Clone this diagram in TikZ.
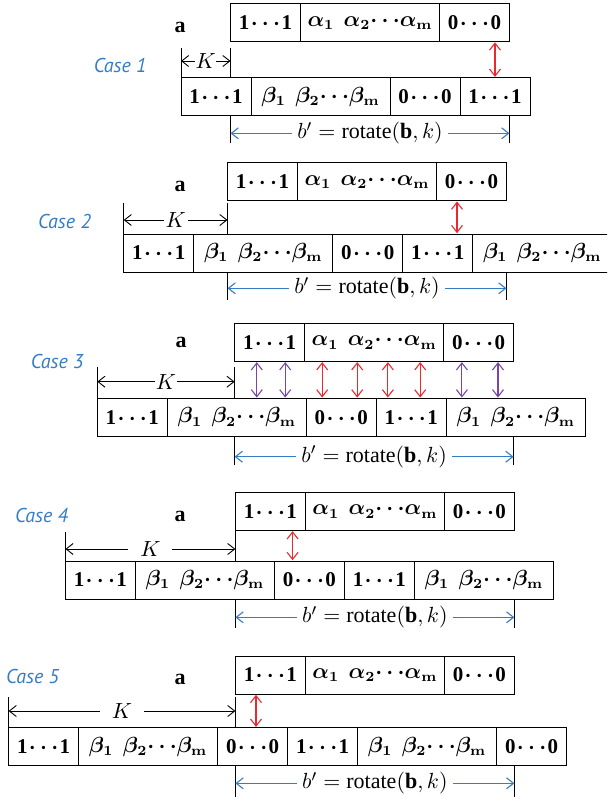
\documentclass[tikz,border=0pt]{standalone}
\usepackage{amsmath}
\usepackage{fontspec}
\setmainfont{Liberation Serif}
\newfontfamily\casefont{PT Sans}
\usetikzlibrary{arrows.meta}
\definecolor{myblue}{RGB}{52,125,195}
\definecolor{myred}{RGB}{235,40,45}
\definecolor{mypurple}{RGB}{120,70,165}
\newcommand{\myones}{\textbf{1}$\mkern1mu\cdots\mkern1mu$\textbf{1}}
\newcommand{\myzeros}{\textbf{0}$\mkern1mu\cdots\mkern1mu$\textbf{0}}
\newcommand{\myalphas}{$\alpha_1\hspace{0.45em}\alpha_2{\cdots}\alpha_{\mathbf{m}}$}
\newcommand{\mybetas}{$\beta_1\hspace{0.45em}\beta_2{\cdots}\beta_{\mathbf{m}}$}
\newcommand{\mybrot}{$b' = \text{rotate}(\mathbf{b}, k)$}
\begin{document}
\begin{tikzpicture}[x=0.5pt,y=-0.5pt,
  cell/.style={draw, line width=0.5pt, outer sep=0pt, inner sep=0pt, minimum height=19pt, anchor=north west, font=\fontsize{10.5}{13}\selectfont\boldmath},
  sc/.style={cell, minimum width=35pt},
  lc/.style={cell, minimum width=69.5pt},
  dbl/.style={line width=0.55pt, shorten >=0.4pt, shorten <=0.4pt, {Straight Barb[length=3.5pt,width=5.5pt]}-{Straight Barb[length=3.5pt,width=5.5pt]}},
  redarr/.style={dbl, draw=myred},
  purarr/.style={dbl, draw=mypurple},
  karr/.style={line width=0.45pt, draw=black, {Straight Barb[length=3.5pt,width=5.5pt]}-{Straight Barb[length=3.5pt,width=5.5pt]}},
  barr/.style={line width=0.55pt, draw=myblue, {Straight Barb[length=3.5pt,width=5.5pt]}-{Straight Barb[length=3.5pt,width=5.5pt]}},
  dimline/.style={draw, line width=0.5pt},
  klab/.style={fill=white, inner ysep=0pt, font=\fontsize{11}{13}\selectfont},
  blab/.style={fill=white, inner xsep=2.5pt, inner ysep=0pt, font=\fontsize{11}{13}\selectfont},
  casel/.style={anchor=west, text=myblue, font=\casefont\fontsize{10}{12}\selectfont\itshape, inner sep=0pt},
  alab/.style={font=\fontsize{11}{13}\selectfont\bfseries, inner sep=0pt}
]
\useasboundingbox (0,0) rectangle (607,799);
\clip (0,0) rectangle (607,799);

% ---------------- Case 1 ----------------
\node[sc] (t1a) at (230.5,3.5) {\myones};
\node[lc] (t1b) at (t1a.north east) {\myalphas};
\node[sc] (t1c) at (t1b.north east) {\myzeros};
\node[alab] (a1) at (180,27.7) {a};
\node[casel] (c1) at (93.4,65) {Case 1};
\node[sc] (b1a) at (181,77.7) {\myones};
\node[lc] (b1b) at (b1a.north east) {\mybetas};
\node[sc] (b1c) at (b1b.north east) {\myzeros};
\node[sc] (b1d) at (b1c.north east) {\myones};
\draw[dimline] (b1a.north west) -- (b1a.north west |- 0,47.7);
\draw[dimline] (t1a.south west |- 0,47.7) -- (t1a.south west |- b1a.north);
\draw[karr] (b1a.north west |- 0,61) -- (t1a.south west |- 0,61) node[klab, midway, inner xsep=0.3pt] {$K$};
\draw[redarr] (495,0 |- t1c.south) -- (495,0 |- b1d.north);
\draw[dimline] (t1a.south west |- b1a.south) -- (t1a.south west |- 0,142.7);
\draw[dimline] (t1c.south east |- b1a.south) -- (t1c.south east |- 0,142.7);
\draw[barr] (t1a.south west |- 0,133.3) -- (t1c.south east |- 0,133.3) node[blab, midway] {\mybrot};

% ---------------- Case 2 ----------------
\node[sc] (t2a) at (227.5,162.7) {\myones};
\node[lc] (t2b) at (t2a.north east) {\myalphas};
\node[sc] (t2c) at (t2b.north east) {\myzeros};
\node[alab] (a2) at (180,186) {a};
\node[casel] (c2) at (37.7,221) {Case 2};
\node[sc] (b2a) at (123.7,234) {\myones};
\node[lc] (b2b) at (b2a.north east) {\mybetas};
\node[sc] (b2c) at (b2b.north east) {\myzeros};
\node[sc] (b2d) at (b2c.north east) {\myones};
\node[lc] (b2e) at (b2d.north east) {\mybetas};
\draw[dimline] (b2a.north west) -- (b2a.north west |- 0,203.3);
\draw[dimline] (t2a.south west |- 0,203.3) -- (t2a.south west |- b2a.north);
\draw[karr] (b2a.north west |- 0,220) -- (t2a.south west |- 0,220) node[klab, midway, inner xsep=1pt] {$K$};
\draw[redarr] (457,0 |- t2c.south) -- (457,0 |- b2d.north);
\draw[dimline] (t2a.south west |- b2a.south) -- (t2a.south west |- 0,300);
\draw[dimline] (t2c.south east |- b2a.south) -- (t2c.south east |- 0,300);
\draw[barr] (t2a.south west |- 0,288.3) -- (t2c.south east |- 0,288.3) node[blab, midway] {\mybrot};

% ---------------- Case 3 ----------------
\node[sc] (t3a) at (234.6,323.3) {\myones};
\node[lc] (t3b) at (t3a.north east) {\myalphas};
\node[sc] (t3c) at (t3b.north east) {\myzeros};
\node[alab] (a3) at (181,342.3) {a};
\node[casel] (c3) at (30.4,361.7) {Case 3};
\node[sc] (b3a) at (97.3,398.3) {\myones};
\node[lc] (b3b) at (b3a.north east) {\mybetas};
\node[sc] (b3c) at (b3b.north east) {\myzeros};
\node[sc] (b3d) at (b3c.north east) {\myones};
\node[lc] (b3e) at (b3d.north east) {\mybetas};
\draw[dimline] (b3a.north west) -- (b3a.north west |- 0,367.3);
\draw[dimline] (t3a.south west |- 0,367.3) -- (t3a.south west |- b3a.north);
\draw[karr] (b3a.north west |- 0,381.7) -- (t3a.south west |- 0,381.7) node[klab, midway, inner xsep=0.5pt] {$K$};
\foreach \xx in {256.8,285.2,461.9,498}
  \draw[purarr] (\xx,0 |- t3a.south) -- (\xx,0 |- b3a.north);
\foreach \xx in {322.2,357.2,387.9,420.2}
  \draw[redarr] (\xx,0 |- t3a.south) -- (\xx,0 |- b3a.north);
\draw[dimline] (t3a.south west |- b3a.south) -- (t3a.south west |- 0,465);
\draw[dimline] (t3c.south east |- b3a.south) -- (t3c.south east |- 0,465);
\draw[barr] (t3a.south west |- 0,456.7) -- (t3c.south east |- 0,456.7) node[blab, midway] {\mybrot};

% ---------------- Case 4 ----------------
\node[sc] (t4a) at (235.4,492.3) {\myones};
\node[lc] (t4b) at (t4a.north east) {\myalphas};
\node[sc] (t4c) at (t4b.north east) {\myzeros};
\node[alab] (a4) at (180,516.7) {a};
\node[casel] (c4) at (14.8,515) {Case 4};
\node[sc] (b4a) at (65.4,561) {\myones};
\node[lc] (b4b) at (b4a.north east) {\mybetas};
\node[sc] (b4c) at (b4b.north east) {\myzeros};
\node[sc] (b4d) at (b4c.north east) {\myones};
\node[lc] (b4e) at (b4d.north east) {\mybetas};
\draw[dimline] (b4a.north west) -- (b4a.north west |- 0,531.7);
\draw[dimline] (t4a.south west) -- (t4a.south west |- b4a.north);
\draw[karr] (b4a.north west |- 0,549) -- (t4a.south west |- 0,549) node[klab, midway, inner xsep=6pt] {$K$};
\draw[redarr] (292.6,0 |- t4a.south) -- (292.6,0 |- b4c.north);
\draw[dimline] (t4a.south west |- b4a.south) -- (t4a.south west |- 0,628.3);
\draw[dimline] (t4c.south east |- b4a.south) -- (t4c.south east |- 0,628.3);
\draw[barr] (t4a.south west |- 0,617.3) -- (t4c.south east |- 0,617.3) node[blab, midway] {\mybrot};

% ---------------- Case 5 ----------------
\node[sc] (t5a) at (235.4,656) {\myones};
\node[lc] (t5b) at (t5a.north east) {\myalphas};
\node[sc] (t5c) at (t5b.north east) {\myzeros};
\node[alab] (a5) at (180,679.3) {a};
\node[casel] (c5) at (5.8,676) {Case 5};
\node[sc] (b5a) at (8.6,727.7) {\myones};
\node[lc] (b5b) at (b5a.north east) {\mybetas};
\node[sc] (b5c) at (b5b.north east) {\myzeros};
\node[sc] (b5d) at (b5c.north east) {\myones};
\node[lc] (b5e) at (b5d.north east) {\mybetas};
\node[sc] (b5f) at (b5e.north east) {\myzeros};
\draw[dimline] (b5a.north west) -- (b5a.north west |- 0,696.7);
\draw[dimline] (t5a.south west |- 0,696.7) -- (t5a.south west |- b5a.north);
\draw[karr] (b5a.north west |- 0,711) -- (t5a.south west |- 0,711) node[klab, midway, inner xsep=6pt] {$K$};
\draw[redarr] (256,0 |- t5a.south) -- (256,0 |- b5c.north);
\draw[dimline] (t5a.south west |- b5a.south) -- (t5a.south west |- 0,796.7);
\draw[dimline] (t5c.south east |- b5a.south) -- (t5c.south east |- 0,796.7);
\draw[barr] (t5a.south west |- 0,783.3) -- (t5c.south east |- 0,783.3) node[blab, midway] {\mybrot};
\end{tikzpicture}
\end{document}
